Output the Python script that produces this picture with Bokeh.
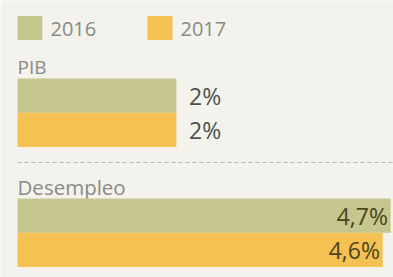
from bokeh.plotting import figure
from bokeh.models import Range1d
from bokeh.core.properties import value
from bokeh.embed import file_html
from bokeh.resources import INLINE

# ---- data ----
groups = ["PIB", "Desempleo"]
series = ["2016", "2017"]
values_2016 = [2.0, 4.7]
values_2017 = [2.0, 4.6]
labels_2016 = ["2%", "4,7%"]
labels_2017 = ["2%", "4,6%"]

# ---- styles ----
BG = "#f3f2ec"
GREEN = "#c6c68f"
ORANGE = "#f6c153"
FONT = "Open Sans"

W, H = 393, 277
PX_PER_UNIT = 79.4
X0 = 17  # left edge in px


def px2x(px):
    return (px - X0) / PX_PER_UNIT


p = figure(width=W, height=H, output_backend="svg", toolbar_location=None,
           x_range=Range1d(px2x(0), px2x(W)), y_range=Range1d(H, 0),
           min_border=0, outline_line_color=None)
p.axis.visible = False
p.grid.visible = False
p.background_fill_color = BG
p.border_fill_color = BG

# legend
leg_x = [29.5, 159.5]
p.rect(x=[px2x(v) for v in leg_x], y=[27.5, 27.5], width=25 / PX_PER_UNIT, height=24,
       fill_color=[GREEN, ORANGE], line_color=None)
p.text(x=[px2x(50), px2x(180)], y=[28, 28], text=series, text_font=value(FONT),
       text_font_size="20px", text_color="#8a8a86", text_baseline="middle")

bar_h = 34.3
group_tops = [78, 198]
colors = [GREEN, ORANGE]
vals = [values_2016, values_2017]
labs = [labels_2016, labels_2017]
name_sizes = ["19px", "20.5px"]

for g, name in enumerate(groups):
    top = group_tops[g]
    p.text(x=[px2x(17)], y=[top - 12], text=[name], text_font=value(FONT),
           text_font_size=name_sizes[g], text_color="#8a8a86", text_baseline="middle")
    ys = [top + s * bar_h + bar_h / 2 for s in range(len(series))]
    bar_vals = [vals[s][g] for s in range(len(series))]
    p.hbar(y=ys, left=0, right=bar_vals, height=bar_h,
           fill_color=colors, line_color=None)
    texts = [labs[s][g] for s in range(len(series))]
    if g == 0:
        p.text(x=[v + 0.16 for v in bar_vals], y=ys, text=texts,
               text_font=value(FONT), text_font_size="23px",
               text_color="#4f4f4d", text_baseline="middle")
    else:
        p.text(x=[v - 0.035 for v in bar_vals], y=ys, text=texts,
               text_font=value(FONT), text_font_size="23px",
               text_color="#4a4518", text_baseline="middle", text_align="right")

# dashed separator
p.segment(x0=[px2x(17)], y0=[162], x1=[px2x(W)], y1=[162],
          line_color="#b8b8b4", line_width=1.2, line_dash="4 3")

open("out.html", "w").write(file_html(p, INLINE))
